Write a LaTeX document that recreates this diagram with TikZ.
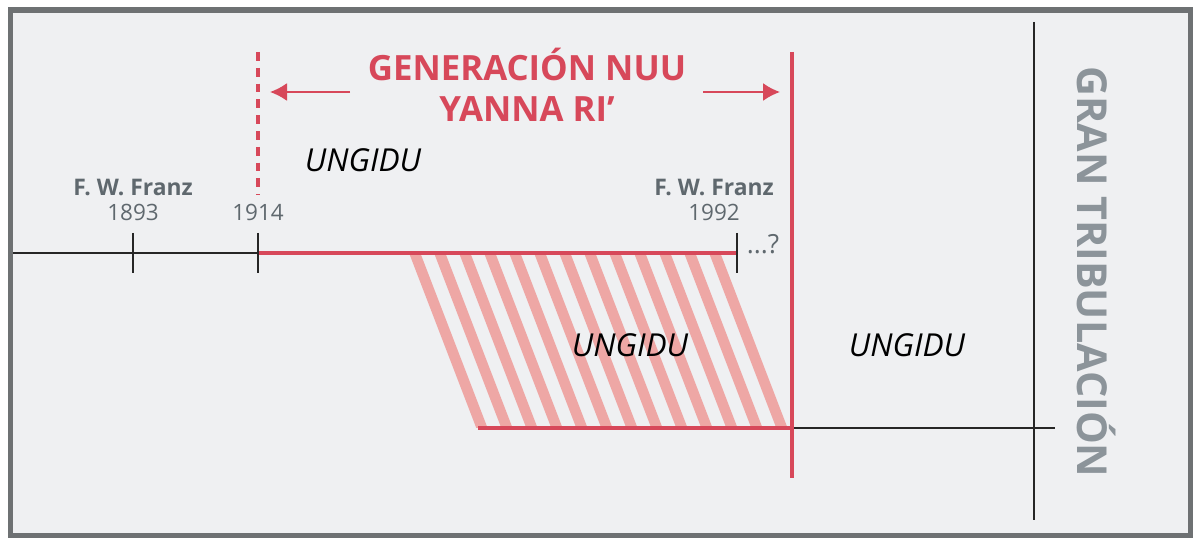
\documentclass[tikz,border=0pt]{standalone}
\usepackage{fontspec}
\setmainfont{Open Sans}
\usetikzlibrary{arrows.meta,positioning}
\definecolor{panelbg}{HTML}{EFF0F2}
\definecolor{framegray}{HTML}{6E7173}
\definecolor{genred}{HTML}{D7485A}
\definecolor{hatchred}{HTML}{EEA7A5}
\definecolor{labelgray}{HTML}{5F686E}
\definecolor{tribgray}{HTML}{8C949A}
\tikzset{
    % Frame and lines
    panel/.style={draw=framegray, fill=panelbg, line width=3.2pt},
    timeline/.style={line width=1.2pt, black!85},
    genline/.style={line width=1.9pt, genred},
    tickmark/.style={line width=1.2pt, black!85},
    hatch/.style={line width=6pt, hatchred},
    gen arrow/.style={-{Latex[length=3.4mm, width=3.6mm]}, line width=1.1pt, genred},
    % Text styles
    title/.style={font=\bfseries\fontsize{19.8}{23}\selectfont, text=genred, align=center, inner sep=0pt},
    ungidu/.style={font=\itshape\fontsize{18}{20}\selectfont, text=black, inner sep=0pt},
    franz/.style={font=\bfseries\fontsize{13}{15}\selectfont, text=labelgray, inner sep=0pt},
    year/.style={font=\fontsize{12.8}{15}\selectfont, text=labelgray, inner sep=0pt},
    trib/.style={font=\bfseries\fontsize{23.5}{26}\selectfont, text=tribgray, rotate=-90, inner sep=0pt},
}

\begin{document}
\begin{tikzpicture}[x=0.02cm, y=-0.02cm]
    \useasboundingbox (0,0) rectangle (1200,547);
    \draw[panel] (10.5,10) rectangle (1190.5,535.5);

    % Timeline points
    \coordinate (start) at (13,253);
    \coordinate (t1893) at (133,253);
    \coordinate (t1914) at (258,253);
    \coordinate (t1992) at (737,253);
    \coordinate (low left) at (478,428);
    \coordinate (low mid) at (792,428);
    \coordinate (low right) at (1055,428);

    % Hatched band
    \begin{scope}
        \clip (400,254) rectangle (790,427);
        \foreach \i in {0,...,12}
            \draw[hatch] (415+25*\i-8,254-21) -- (482+25*\i+8,428+21);
    \end{scope}

    % Upper timeline
    \draw[timeline] (start) -- (t1914);
    \draw[genline] (t1914) -- (t1992);
    \foreach \t in {t1893,t1914,t1992}
        \draw[tickmark] (\t) ++(0,-20) -- ++(0,40);

    % Lower timeline
    \draw[genline] (low left) -- (low mid);
    \draw[timeline] (low mid) -- (low right);

    % Generation limits
    \coordinate (dash top) at (258,52);
    \coordinate (dash bot) at (258,195);
    \coordinate (end top) at (792,52);
    \coordinate (end bot) at (792,478);
    \draw[genline, dash pattern=on 5pt off 4pt, line width=2.2pt] (dash top) -- (dash bot);
    \draw[genline, line width=2.2pt] (end top) -- (end bot);

    % Great tribulation
    \coordinate (gt top) at (1034,22);
    \coordinate (gt bot) at (1034,520);
    \draw[timeline] (gt top) -- (gt bot);
    \node[trib] (gt) at (1097,272) {GRAN TRIBULACIÓN};

    % Title
    \node[title] (gen) at (527,85) {GENERACIÓN NUU\\YANNA RI’};
    \coordinate (al) at (350,92);
    \coordinate (ar) at (703,92);
    \draw[gen arrow] (al) -- (270,92);
    \draw[gen arrow] (ar) -- (780,92);

    % Labels
    \node[ungidu] (u1) at (363,160) {UNGIDU};
    \node[ungidu] (u2) at (630,345) {UNGIDU};
    \node[ungidu] (u3) at (907,345) {UNGIDU};
    \node[franz] (f1) at (133,187) {F. W. Franz};
    \node[year] (y1) at (133,212) {1893};
    \node[year] (y2) at (258,212) {1914};
    \node[franz] (f2) at (714,187) {F. W. Franz};
    \node[year] (y3) at (714,212) {1992};
    \node[year, font=\fontsize{15}{17}\selectfont] (q) at (763,244) {...?};
\end{tikzpicture}
\end{document}
